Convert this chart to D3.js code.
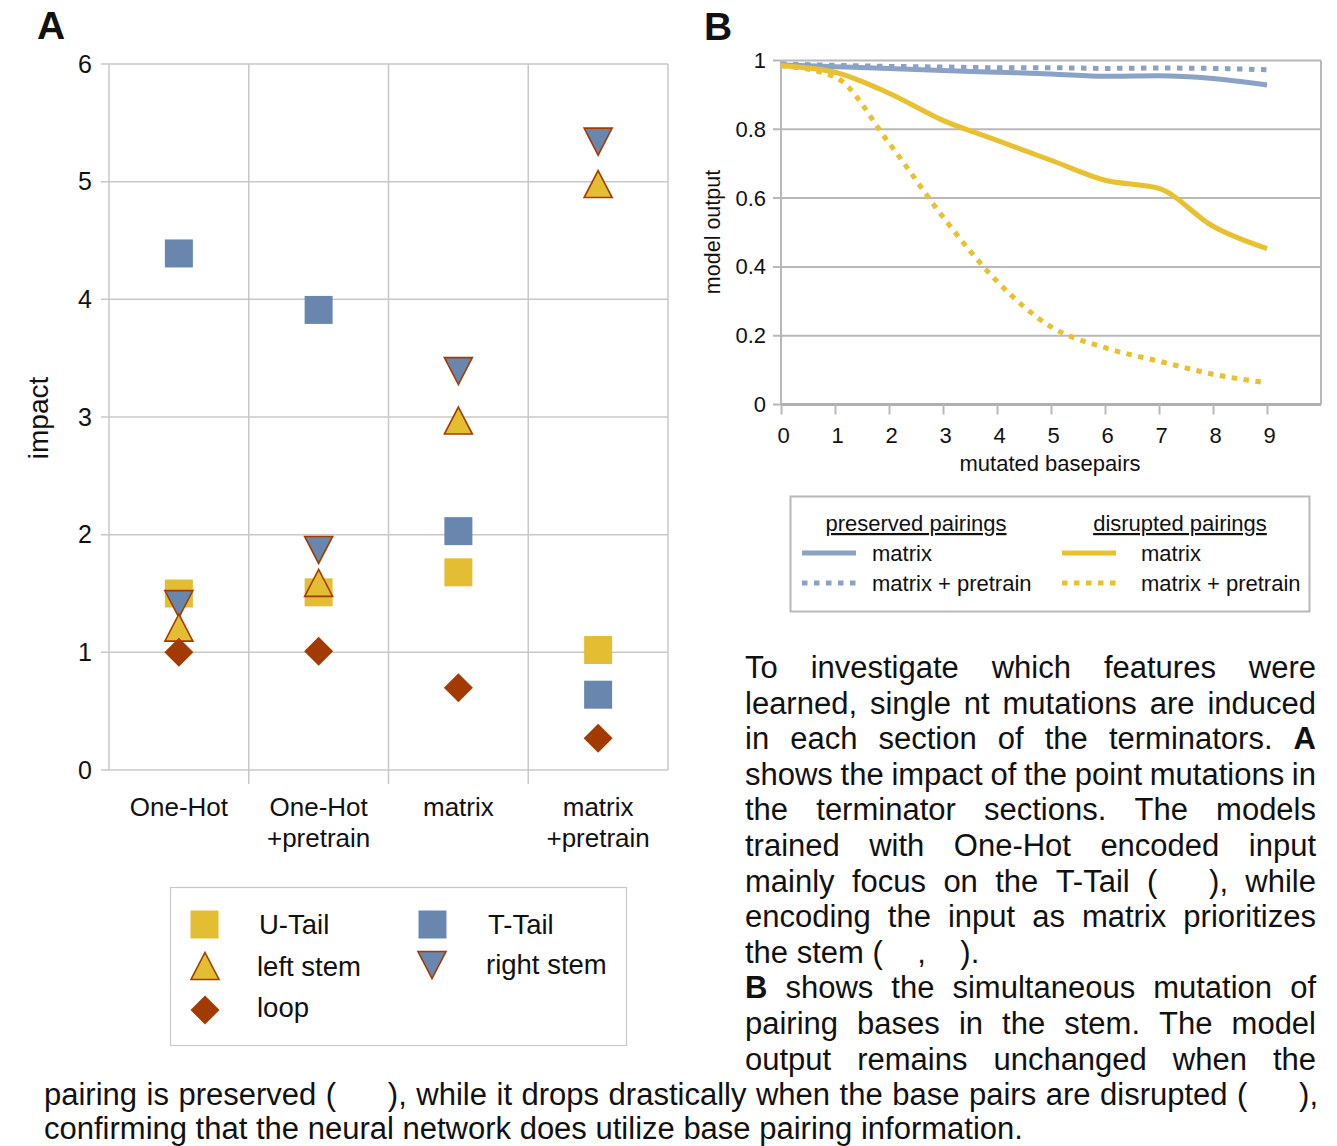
<!DOCTYPE html>
<html><head><meta charset="utf-8">
<script src="https://cdn.jsdelivr.net/npm/d3@7"></script>
<style>
body{margin:0;background:#fff}
svg{display:block;font-family:"Liberation Sans",Arial,Helvetica,sans-serif}
</style>
</head><body>
<svg id="chart" width="1337" height="1146"></svg>
<script>
// ---------- Panel A data ----------
const categoriesA = ["One-Hot", "One-Hot\n+pretrain", "matrix", "matrix\n+pretrain"];
const seriesNamesA = ["U-Tail", "T-Tail", "left stem", "right stem", "loop"];
const uTail     = [1.50, 1.51, 1.68, 1.02];
const tTail     = [4.39, 3.91, 2.03, 0.64];
const leftStem  = [1.21, 1.59, 2.97, 4.98];
const rightStem = [1.41, 1.87, 3.39, 5.34];
const loopVals  = [1.00, 1.01, 0.70, 0.27];
const yTicksA = [0, 1, 2, 3, 4, 5, 6];

// ---------- Panel B data ----------
const basepairs = [0, 1, 2, 3, 4, 5, 6, 7, 8, 9];
const preservedMatrix   = [0.987, 0.982, 0.977, 0.971, 0.966, 0.961, 0.954, 0.956, 0.948, 0.929];
const preservedPretrain = [0.990, 0.986, 0.983, 0.981, 0.979, 0.979, 0.977, 0.978, 0.977, 0.973];
const disruptedMatrix   = [0.985, 0.966, 0.905, 0.826, 0.768, 0.710, 0.652, 0.628, 0.518, 0.453];
const disruptedPretrain = [0.985, 0.952, 0.760, 0.545, 0.358, 0.226, 0.165, 0.126, 0.088, 0.063];
const xTicksB = [0, 1, 2, 3, 4, 5, 6, 7, 8, 9];
const yTicksB = [0, 0.2, 0.4, 0.6, 0.8, 1];

// ---------- Caption text ----------
const NB = "\u00A0";
const gap6 = "(" + NB.repeat(6) + "),";
const captionRight = [
  "To investigate which features were",
  "learned, single nt mutations are induced",
  "in each section of the terminators. **A**",
  "shows the impact of the point mutations in",
  "the terminator sections. The models",
  "trained with One-Hot encoded input",
  "mainly focus on the T-Tail " + gap6 + " while",
  "encoding the input as matrix prioritizes",
  "the stem (" + NB.repeat(4) + "," + NB.repeat(4) + ").",
  "**B** shows the simultaneous mutation of",
  "pairing bases in the stem. The model",
  "output remains unchanged when the"
];
const captionFull = [
  "pairing is preserved " + gap6 + " while it drops drastically when the base pairs are disrupted " + gap6,
  "confirming that the neural network does utilize base pairing information."
];

// ---------- Drawing ----------
const svg = d3.select("#chart");
const YELLOW = "#e3be32", BLUE = "#6986ae", RUST = "#a33b00";
const LINE_BLUE = "#8aa2c5", LINE_YELLOW = "#e8c030";
const GRID = "#c8c8c8", TEXT = "#111";
const FAM = "Liberation Sans, Arial, sans-serif";

const shapes = {
  square: "M-14,-14H14V14H-14Z",
  up: "M0,-13.5L14,13.5L-14,13.5Z",
  down: "M-14,-13.5L14,-13.5L0,13.5Z",
  diamond: "M0,-14.5L14.5,0L0,14.5L-14.5,0Z"
};
const seriesA = [
  {name: seriesNamesA[0], values: uTail,     shape: "square",  fill: YELLOW, stroke: "none"},
  {name: seriesNamesA[1], values: tTail,     shape: "square",  fill: BLUE,   stroke: "none"},
  {name: seriesNamesA[3], values: rightStem, shape: "down",    fill: BLUE,   stroke: RUST},
  {name: seriesNamesA[2], values: leftStem,  shape: "up",      fill: YELLOW, stroke: RUST},
  {name: seriesNamesA[4], values: loopVals,  shape: "diamond", fill: RUST,   stroke: "none"}
];

// Panel A
const gA = svg.append("g");
const xA = d3.scaleBand().domain(categoriesA).range([109, 668]);
const yA = d3.scaleLinear().domain([0, 6]).range([770, 64]);

gA.append("g").selectAll("line").data(yTicksA).join("line")
  .attr("x1", 101).attr("x2", 668)
  .attr("y1", d => yA(d)).attr("y2", d => yA(d))
  .attr("stroke", GRID).attr("stroke-width", 1.5);

const bounds = categoriesA.map(c => xA(c)).concat([xA.range()[1]]);
gA.append("g").selectAll("line").data(bounds).join("line")
  .attr("x1", d => d).attr("x2", d => d)
  .attr("y1", 64)
  .attr("y2", (d, i) => (i === 0 || i === bounds.length - 1) ? 770 : 784)
  .attr("stroke", GRID).attr("stroke-width", 1.5);

const axA = gA.append("g").attr("transform", "translate(109,0)")
  .call(d3.axisLeft(yA).tickValues(yTicksA).tickFormat(d3.format("d")).tickSize(0).tickPadding(17));
axA.select(".domain").remove();
axA.selectAll("text").attr("font-size", 25).attr("fill", TEXT).attr("font-family", FAM);

gA.append("text").attr("transform", "translate(48,418) rotate(-90)")
  .attr("text-anchor", "middle").attr("font-size", 28).attr("fill", TEXT).text("impact");

const catLabels = gA.append("g").selectAll("text").data(categoriesA).join("text")
  .attr("text-anchor", "middle").attr("font-size", 26).attr("fill", TEXT);
catLabels.each(function(d) {
  const parts = d.split("\n");
  const t = d3.select(this);
  parts.forEach((p, i) => t.append("tspan")
    .attr("x", xA(d) + xA.bandwidth() / 2).attr("y", 816 + i * 31).text(p));
});

const gMarks = gA.append("g");
seriesA.forEach(s => {
  gMarks.append("g").selectAll("path").data(s.values).join("path")
    .attr("d", shapes[s.shape])
    .attr("transform", (v, i) => `translate(${xA(categoriesA[i]) + xA.bandwidth() / 2},${yA(v)})`)
    .attr("fill", s.fill).attr("stroke", s.stroke).attr("stroke-width", 1.6)
    .attr("stroke-linejoin", "miter");
});

svg.append("text").attr("x", 37).attr("y", 39).attr("font-size", 39)
  .attr("font-weight", "bold").attr("fill", TEXT).text("A");

// Legend A
const legA = svg.append("g");
legA.append("rect").attr("x", 170.5).attr("y", 887.5).attr("width", 456).attr("height", 158)
  .attr("fill", "#fff").attr("stroke", "#c8c8c8").attr("stroke-width", 1.2);
const legItemsA = [
  {s: seriesA[0], cx: 204.5, cy: 924.5, tx: 259, ty: 934},
  {s: seriesA[1], cx: 432.5, cy: 924.5, tx: 488, ty: 934},
  {s: seriesA[3], cx: 205,   cy: 966,   tx: 257, ty: 976},
  {s: seriesA[2], cx: 432,   cy: 965,   tx: 486, ty: 974},
  {s: seriesA[4], cx: 205,   cy: 1010,  tx: 257, ty: 1017}
];
legItemsA.forEach(it => {
  legA.append("path").attr("d", shapes[it.s.shape])
    .attr("transform", `translate(${it.cx},${it.cy})`)
    .attr("fill", it.s.fill).attr("stroke", it.s.stroke).attr("stroke-width", 1.6);
  legA.append("text").attr("x", it.tx).attr("y", it.ty).attr("font-size", 27.5)
    .attr("fill", TEXT).text(it.s.name);
});

// Panel B
const gB = svg.append("g");
const xB = d3.scaleLinear().domain([0, 10]).range([781, 1321]);
const yB = d3.scaleLinear().domain([0, 1]).range([404.5, 60.5]);

gB.append("g").selectAll("line").data(yTicksB).join("line")
  .attr("x1", 773).attr("x2", 1321)
  .attr("y1", d => yB(d)).attr("y2", d => yB(d))
  .attr("stroke", "#b8b8b8").attr("stroke-width", 2);
gB.append("line").attr("x1", 781).attr("x2", 781).attr("y1", 60.5).attr("y2", 404.5)
  .attr("stroke", "#b8b8b8").attr("stroke-width", 2);
gB.append("line").attr("x1", 1321).attr("x2", 1321).attr("y1", 60.5).attr("y2", 404.5)
  .attr("stroke", "#b8b8b8").attr("stroke-width", 2);
gB.append("line").attr("x1", 781).attr("x2", 1321).attr("y1", 404.5).attr("y2", 404.5)
  .attr("stroke", "#b0b0b0").attr("stroke-width", 3);

const axBx = gB.append("g").attr("transform", "translate(0,404.5)")
  .call(d3.axisBottom(xB).tickValues(xTicksB).tickSize(10).tickPadding(13).tickFormat(d3.format("d")));
axBx.select(".domain").remove();
axBx.selectAll("line").attr("stroke", "#b8b8b8").attr("stroke-width", 2);
axBx.selectAll("text").attr("font-size", 22).attr("fill", TEXT).attr("dx", 2).attr("font-family", FAM);

const axBy = gB.append("g").attr("transform", "translate(781,0)")
  .call(d3.axisLeft(yB).tickValues(yTicksB).tickSize(0).tickPadding(15)
    .tickFormat(d => d === 0 ? "0" : d === 1 ? "1" : d3.format(".1f")(d)));
axBy.select(".domain").remove();
axBy.selectAll("text").attr("font-size", 22).attr("fill", TEXT).attr("font-family", FAM);

gB.append("text").attr("x", 1050).attr("y", 471).attr("text-anchor", "middle")
  .attr("font-size", 22).attr("fill", TEXT).text("mutated basepairs");
gB.append("text").attr("transform", "translate(720,232) rotate(-90)")
  .attr("text-anchor", "middle").attr("font-size", 21.5).attr("fill", TEXT).text("model output");

const seriesB = [
  {name: "matrix", group: "preserved pairings", values: preservedMatrix,   color: LINE_BLUE,   dash: null},
  {name: "matrix + pretrain", group: "preserved pairings", values: preservedPretrain, color: LINE_BLUE,   dash: "5.5,6.5"},
  {name: "matrix", group: "disrupted pairings", values: disruptedMatrix,   color: LINE_YELLOW, dash: null},
  {name: "matrix + pretrain", group: "disrupted pairings", values: disruptedPretrain, color: LINE_YELLOW, dash: "5.5,6.5"}
];
const lineB = d3.line().x((d, i) => xB(basepairs[i])).y(d => yB(d)).curve(d3.curveMonotoneX);
[seriesB[1], seriesB[0], seriesB[3], seriesB[2]].forEach(s => {
  gB.append("path").datum(s.values).attr("d", lineB)
    .attr("fill", "none").attr("stroke", s.color).attr("stroke-width", 5)
    .attr("stroke-dasharray", s.dash);
});

svg.append("text").attr("x", 704).attr("y", 40).attr("font-size", 39)
  .attr("font-weight", "bold").attr("fill", TEXT).text("B");

// Legend B
const legB = svg.append("g");
legB.append("rect").attr("x", 790.5).attr("y", 496.5).attr("width", 519).attr("height", 115)
  .attr("fill", "#fff").attr("stroke", "#b8b8b8").attr("stroke-width", 2);
[["preserved pairings", 916], ["disrupted pairings", 1180]].forEach(([t, cx]) => {
  legB.append("text").attr("x", cx).attr("y", 531).attr("text-anchor", "middle")
    .attr("font-size", 22).attr("fill", TEXT).style("text-decoration", "underline").text(t);
});
const legItemsB = [
  {s: seriesB[0], x: 802,  y: 553, tx: 872},
  {s: seriesB[1], x: 802,  y: 583, tx: 872},
  {s: seriesB[2], x: 1062, y: 553, tx: 1141},
  {s: seriesB[3], x: 1062, y: 583, tx: 1141}
];
legItemsB.forEach(it => {
  legB.append("line").attr("x1", it.x).attr("x2", it.x + 54).attr("y1", it.y).attr("y2", it.y)
    .attr("stroke", it.s.color).attr("stroke-width", 5).attr("stroke-dasharray", it.s.dash);
  legB.append("text").attr("x", it.tx).attr("y", it.y + 8).attr("font-size", 22)
    .attr("fill", TEXT).text(it.s.name);
});

// Caption (justified)
const FS = 31;
const measurer = svg.append("text").attr("font-size", FS).attr("visibility", "hidden");
function wordWidth(w, bold) {
  measurer.attr("font-weight", bold ? "bold" : "normal").text(w);
  return measurer.node().getComputedTextLength();
}
function drawLine(str, x0, width, y, justify) {
  const toks = str.split(" ").map(w => {
    const bold = /^\*\*.*\*\*$/.test(w);
    const t = bold ? w.slice(2, -2) : w;
    return {t, bold, w: wordWidth(t, bold)};
  });
  const total = d3.sum(toks, d => d.w);
  const sp = FS * 0.278;
  const gap = (justify && toks.length > 1) ? (width - total) / (toks.length - 1) : sp;
  const txt = svg.append("text").attr("y", y).attr("font-size", FS).attr("fill", TEXT);
  let x = x0;
  toks.forEach((tk, i) => {
    txt.append("tspan").attr("x", x).attr("font-weight", tk.bold ? "bold" : null)
      .text(tk.t + (i < toks.length - 1 ? " " : ""));
    x += tk.w + gap;
  });
}
const lineH = 35.6;
captionRight.forEach((s, i) => {
  drawLine(s, 745, 571, 678 + i * lineH, i !== 8);
});
drawLine(captionFull[0], 44, 1274, 678 + 12 * lineH, true);
drawLine(captionFull[1], 44, 1274, 1138.5, false);
measurer.remove();
</script>
</body></html>
